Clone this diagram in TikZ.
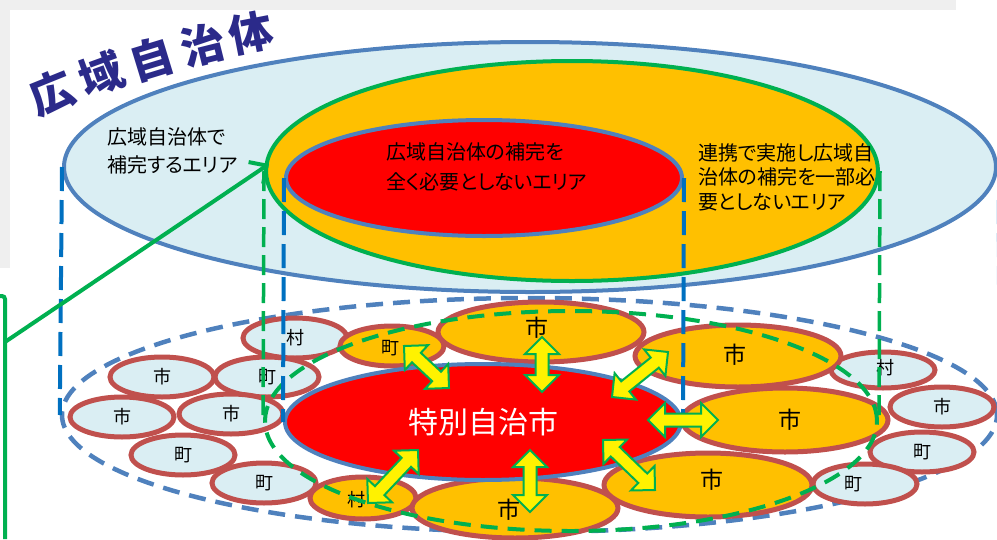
\documentclass[tikz,border=0pt]{standalone}
\usepackage{fontspec}
\newfontfamily\jp{Noto Sans CJK JP}[RawFeature=+palt]
\usetikzlibrary{shapes.geometric,calc,arrows.meta}
\definecolor{lblue}{HTML}{DAEEF3}
\definecolor{bline}{HTML}{4F81BD}
\definecolor{dblue}{HTML}{0070C0}
\definecolor{orng}{HTML}{FFC000}
\definecolor{grn}{HTML}{00B050}
\definecolor{rbrown}{HTML}{C0504D}
\definecolor{navy}{HTML}{2B2A8A}
\definecolor{panel}{HTML}{EFEFEF}
\definecolor{paleblue}{HTML}{9DC3E6}
\newcommand\mydblarr[2]{%
  \draw[blockarr] (#1)
    -- ($(#1)!17pt!(#2)!17pt!90:(#2)$)
    -- ($(#1)!17pt!(#2)!6.5pt!90:(#2)$)
    -- ($(#2)!17pt!(#1)!6.5pt!-90:(#1)$)
    -- ($(#2)!17pt!(#1)!17pt!-90:(#1)$)
    -- (#2)
    -- ($(#2)!17pt!(#1)!17pt!90:(#1)$)
    -- ($(#2)!17pt!(#1)!6.5pt!90:(#1)$)
    -- ($(#1)!17pt!(#2)!6.5pt!-90:(#2)$)
    -- ($(#1)!17pt!(#2)!17pt!-90:(#2)$)
    -- cycle;}
\begin{document}
\begin{tikzpicture}[x=1pt,y=-1pt,
  bigell/.style={ellipse, inner sep=0pt, line width=4pt},
  smallell/.style={ellipse, inner sep=0pt, draw=rbrown, line width=5pt,
    minimum width=104pt, minimum height=40pt},
  lbs/.style={smallell, fill=lblue},
  ors/.style={smallell, fill=orng},
  smalltxt/.style={font=\jp\fontsize{18}{18}\selectfont, inner sep=0pt},
  cityell/.style={ellipse, inner sep=0pt, draw=rbrown, line width=5pt, fill=orng,
    minimum width=206pt, minimum height=62pt},
  citytxt/.style={font=\jp\fontsize{23}{23}\selectfont, inner sep=0pt},
  bluedash/.style={draw=dblue, line width=4pt, dash pattern=on 24pt off 9pt},
  greendash/.style={draw=grn, line width=3.5pt, dash pattern=on 20pt off 8pt},
  blockarr/.style={fill=yellow, draw=grn, line width=2pt, line join=miter},
  grnline/.style={draw=grn, line width=4pt},
  titlech/.style={text=navy, font=\jp\bfseries\fontsize{44}{44}\selectfont, inner sep=0pt},
  bodytext/.style={font=\jp\fontsize{20}{24.5}\selectfont, inner sep=0pt}
]
\useasboundingbox (0,0) rectangle (997,539);
% background panel
\fill[panel] (0,0) rectangle (956,10);
\fill[panel] (0,0) rectangle (10,268);

% upper (wide-area) ellipses
\node[bigell, draw=bline, fill=lblue, minimum width=932pt, minimum height=250pt] (tout) at (530,167) {};
\node[bigell, draw=grn, fill=orng, minimum width=612pt, minimum height=220pt] (tgreen) at (572,171) {};
\node[bigell, draw=bline, fill=red, minimum width=396pt, minimum height=116pt] (tred) at (484,178) {};

% title
\node[titlech, rotate=22] (t1) at (52,93) {広};
\node[titlech, rotate=20] (t2) at (101,74) {域};
\node[titlech, rotate=17] (t3) at (152,59) {自};
\node[titlech, rotate=14] (t4) at (203,45) {治};
\node[titlech, rotate=11] (t5) at (251,33) {体};

% upper texts
\node[bodytext, anchor=west, align=left, font=\jp\fontsize{20}{28}\selectfont] (txl) at (107,151) {広域自治体で\\補完するエリア};
\node[bodytext, anchor=west, align=left, font=\jp\fontsize{20}{30}\selectfont] (txc) at (386,167) {広域自治体の補完を\\全く必要としないエリア};
\node[bodytext, anchor=west, align=left] (txr) at (698,177) {連携で実施し広域自\\治体の補完を一部必\\要としないエリア};

% lower outer dashed ellipse
\node[bigell, draw=bline, line width=4.5pt, dash pattern=on 17pt off 10pt, minimum width=935pt, minimum height=234pt] (bout) at (529.5,415) {};

% small municipalities (left)
\node[lbs] (m1) at (295,338) {};
\node[ors] (m2) at (392,346) {};
\node[lbs] (m3) at (162,377) {};
\node[lbs] (m4) at (267,377) {};
\node[lbs] (m5) at (122,417) {};
\node[lbs] (m6) at (231,414) {};
\node[lbs] (m7) at (183,455) {};
\node[lbs] (m8) at (264,483) {};
\node[ors, minimum width=106pt, minimum height=42pt] (m9) at (363,498) {};
% small municipalities (right)
\node[lbs, minimum height=36pt] (m10) at (883,370) {};
\node[lbs] (m11) at (942,407) {};
\node[lbs] (m12) at (922,452) {};
\node[lbs] (m13) at (865,484) {};
% cities around
\node[cityell, minimum height=60pt] (c1) at (541,332) {};
\node[cityell] (c2) at (738,356) {};
\node[cityell, minimum height=64pt] (c3) at (785,420) {};
\node[cityell, minimum width=208pt, minimum height=64pt] (c4) at (708,485) {};
\node[cityell, minimum height=60pt] (c5) at (515,508) {};

% labels
\node[smalltxt] (l1) at ($(m1)+(0,0)$) {村};
\node[smalltxt] (l2) at ($(m2)+(-2,2)$) {町};
\node[smalltxt] (l3) at (m3) {市};
\node[smalltxt] (l4) at (m4) {町};
\node[smalltxt] (l5) at (m5) {市};
\node[smalltxt] (l6) at (m6) {市};
\node[smalltxt] (l7) at (m7) {町};
\node[smalltxt] (l8) at (m8) {町};
\node[smalltxt] (l9) at ($(m9)+(-7,2)$) {村};
\node[smalltxt] (l10) at ($(m10)+(2,-2)$) {村};
\node[smalltxt] (l11) at (m11) {市};
\node[smalltxt] (l12) at (m12) {町};
\node[smalltxt] (l13) at ($(m13)+(-12,0)$) {町};
\node[citytxt] (lc1) at ($(c1)+(-4,-4)$) {市};
\node[citytxt] (lc2) at ($(c2)+(-3,-1)$) {市};
\node[citytxt] (lc3) at ($(c3)+(5,0)$) {市};
\node[citytxt] (lc4) at ($(c4)+(4,-5)$) {市};
\node[citytxt] (lc5) at ($(c5)+(-6,2)$) {市};

% lower green dashed ellipse
\node[bigell, draw=grn, line width=4pt, dash pattern=on 17pt off 10pt, minimum width=612pt, minimum height=220pt] (bgreen) at (571,421) {};

% special city
\node[bigell, draw=bline, fill=red, minimum width=396pt, minimum height=116pt,
  text=white, font=\jp\fontsize{30}{30}\selectfont] (sp) at (483,422) {特別自治市};

% vertical projection lines
\draw[bluedash] (tout.west) -- (bout.west);
\draw[draw=paleblue, line width=3pt, dash pattern=on 24pt off 9pt] ($(tout.east)+(0,33)$) -- (bout.east);
\draw[greendash] (tgreen.west) -- (bgreen.west);
\draw[greendash] (tgreen.east) -- (bgreen.east);
\draw[bluedash] (tred.west) -- (sp.west);
\draw[bluedash] (tred.east) -- (sp.east);

% cooperation arrows
\coordinate (a1s) at (404,346); \coordinate (a1e) at (449,388);
\coordinate (a2s) at (542,337); \coordinate (a2e) at (542,392);
\coordinate (a3s) at (668,352); \coordinate (a3e) at (612,397);
\coordinate (a4s) at (648,420); \coordinate (a4e) at (718,420);
\coordinate (a5s) at (603,440); \coordinate (a5e) at (655,490);
\coordinate (a6s) at (530,450); \coordinate (a6e) at (530,512);
\coordinate (a7s) at (418,450); \coordinate (a7e) at (368,503);
\mydblarr{a1s}{a1e}
\mydblarr{a2s}{a2e}
\mydblarr{a3s}{a3e}
\mydblarr{a4s}{a4e}
\mydblarr{a5s}{a5e}
\mydblarr{a6s}{a6e}
\mydblarr{a7s}{a7e}

% green pointer line
\coordinate (gA) at (0,296);
\coordinate (gB) at (5,296);
\coordinate (gC) at (5,539);
\coordinate (gD) at (5,342);
\coordinate (gtip) at (269,164);
\draw[grnline, rounded corners=3pt] (gA) -- (gB) -- (gC);
\draw[grnline, line cap=round, -{Straight Barb[length=13pt,width=26pt]}] (gD) -- (gtip);
\end{tikzpicture}
\end{document}
